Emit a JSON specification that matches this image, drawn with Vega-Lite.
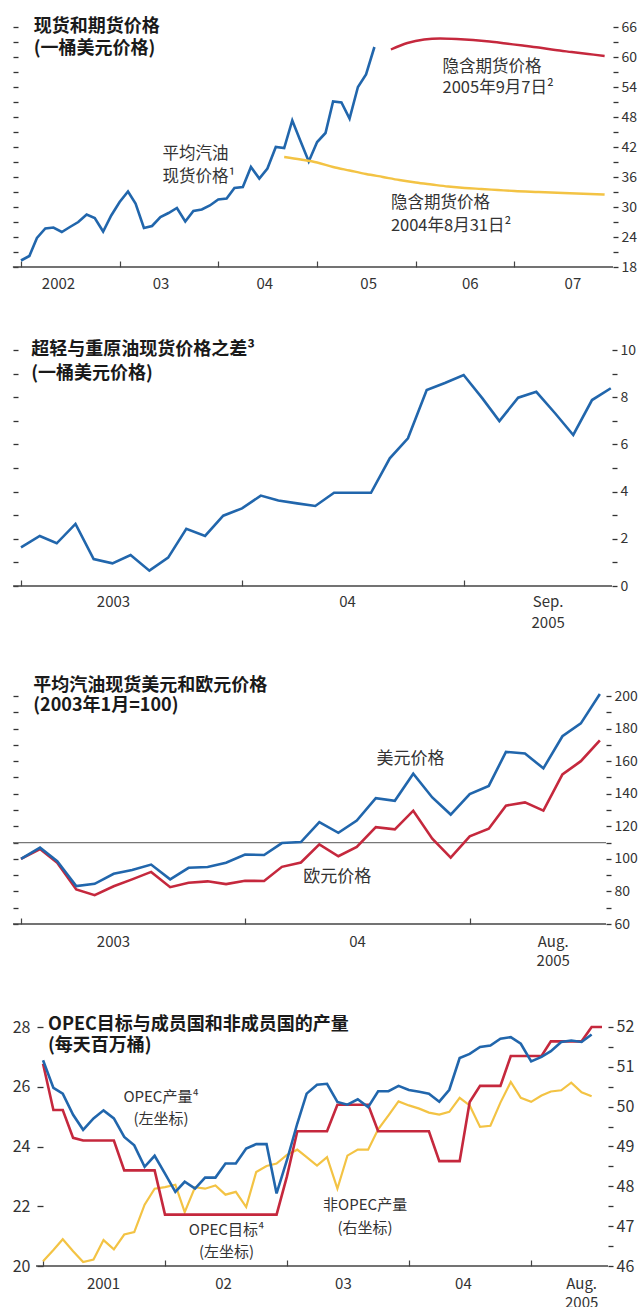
{
  "$schema": "https://vega.github.io/schema/vega-lite/v6.json",
  "background": "white",
  "padding": {"left": 12, "top": 18, "right": 0, "bottom": 0},
  "bounds": "flush",
  "spacing": 83,
  "config": {
    "view": {"stroke": null},
    "font": "Noto Sans CJK SC",
    "text": {"font": "Noto Sans CJK SC"},
    "axis": {"labelFont": "Noto Sans CJK SC", "grid": false, "title": null}
  },
  "datasets": {
    "spot": [
      {"date": "2002-01-01", "v": 19.3}, {"date": "2002-02-01", "v": 20.2}, {"date": "2002-03-01", "v": 23.8}, {"date": "2002-04-01", "v": 25.7},
      {"date": "2002-05-01", "v": 25.9}, {"date": "2002-06-01", "v": 25.0}, {"date": "2002-07-01", "v": 26.0}, {"date": "2002-08-01", "v": 27.0},
      {"date": "2002-09-01", "v": 28.5}, {"date": "2002-10-01", "v": 27.8}, {"date": "2002-11-01", "v": 25.1}, {"date": "2002-12-01", "v": 28.3},
      {"date": "2003-01-01", "v": 31.0}, {"date": "2003-02-01", "v": 33.1}, {"date": "2003-03-01", "v": 30.7}, {"date": "2003-04-01", "v": 25.8},
      {"date": "2003-05-01", "v": 26.2}, {"date": "2003-06-01", "v": 28.0}, {"date": "2003-07-01", "v": 28.8}, {"date": "2003-08-01", "v": 29.8},
      {"date": "2003-09-01", "v": 27.1}, {"date": "2003-10-01", "v": 29.2}, {"date": "2003-11-01", "v": 29.5}, {"date": "2003-12-01", "v": 30.3},
      {"date": "2004-01-01", "v": 31.5}, {"date": "2004-02-01", "v": 31.7}, {"date": "2004-03-01", "v": 33.8}, {"date": "2004-04-01", "v": 34.0},
      {"date": "2004-05-01", "v": 38.0}, {"date": "2004-06-01", "v": 35.7}, {"date": "2004-07-01", "v": 37.7}, {"date": "2004-08-01", "v": 42.0},
      {"date": "2004-09-01", "v": 41.8}, {"date": "2004-10-01", "v": 47.3}, {"date": "2004-11-01", "v": 43.1}, {"date": "2004-12-01", "v": 39.1},
      {"date": "2005-01-01", "v": 43.0}, {"date": "2005-02-01", "v": 44.8}, {"date": "2005-03-01", "v": 51.1}, {"date": "2005-04-01", "v": 50.9},
      {"date": "2005-05-01", "v": 47.7}, {"date": "2005-06-01", "v": 54.0}, {"date": "2005-07-01", "v": 56.5}, {"date": "2005-08-01", "v": 62.0}
    ],
    "futures": [
      {"s": "f05", "date": "2005-10-01", "v": 61.5}, {"s": "f05", "date": "2005-12-01", "v": 62.8}, {"s": "f05", "date": "2006-02-01", "v": 63.5},
      {"s": "f05", "date": "2006-04-01", "v": 63.7}, {"s": "f05", "date": "2006-06-01", "v": 63.6}, {"s": "f05", "date": "2006-08-01", "v": 63.4},
      {"s": "f05", "date": "2006-10-01", "v": 63.1}, {"s": "f05", "date": "2006-12-01", "v": 62.7}, {"s": "f05", "date": "2007-02-01", "v": 62.3},
      {"s": "f05", "date": "2007-04-01", "v": 61.9}, {"s": "f05", "date": "2007-06-01", "v": 61.4}, {"s": "f05", "date": "2007-08-01", "v": 61.0},
      {"s": "f05", "date": "2007-10-01", "v": 60.6}, {"s": "f05", "date": "2007-12-01", "v": 60.2},
      {"s": "f04", "date": "2004-09-01", "v": 40.0}, {"s": "f04", "date": "2004-11-01", "v": 39.5}, {"s": "f04", "date": "2005-01-01", "v": 38.9},
      {"s": "f04", "date": "2005-03-01", "v": 38.0}, {"s": "f04", "date": "2005-05-01", "v": 37.3}, {"s": "f04", "date": "2005-07-01", "v": 36.6},
      {"s": "f04", "date": "2005-09-01", "v": 36.0}, {"s": "f04", "date": "2005-11-01", "v": 35.4}, {"s": "f04", "date": "2006-01-01", "v": 34.9},
      {"s": "f04", "date": "2006-03-01", "v": 34.5}, {"s": "f04", "date": "2006-05-01", "v": 34.1}, {"s": "f04", "date": "2006-07-01", "v": 33.8},
      {"s": "f04", "date": "2006-09-01", "v": 33.6}, {"s": "f04", "date": "2006-11-01", "v": 33.4}, {"s": "f04", "date": "2007-01-01", "v": 33.2},
      {"s": "f04", "date": "2007-04-01", "v": 33.0}, {"s": "f04", "date": "2007-07-01", "v": 32.8}, {"s": "f04", "date": "2007-12-01", "v": 32.5}
    ],
    "spread": [
      {"date": "2003-01-01", "v": 1.64}, {"date": "2003-02-01", "v": 2.12}, {"date": "2003-03-01", "v": 1.81}, {"date": "2003-04-01", "v": 2.63},
      {"date": "2003-05-01", "v": 1.14}, {"date": "2003-06-01", "v": 0.96}, {"date": "2003-07-01", "v": 1.31}, {"date": "2003-08-01", "v": 0.65},
      {"date": "2003-09-01", "v": 1.2}, {"date": "2003-10-01", "v": 2.42}, {"date": "2003-11-01", "v": 2.12}, {"date": "2003-12-01", "v": 2.98},
      {"date": "2004-01-01", "v": 3.29}, {"date": "2004-02-01", "v": 3.83}, {"date": "2004-03-01", "v": 3.62}, {"date": "2004-04-01", "v": 3.5},
      {"date": "2004-05-01", "v": 3.39}, {"date": "2004-06-01", "v": 3.95}, {"date": "2004-07-01", "v": 3.95}, {"date": "2004-08-01", "v": 3.95},
      {"date": "2004-09-01", "v": 5.41}, {"date": "2004-10-01", "v": 6.26}, {"date": "2004-11-01", "v": 8.3}, {"date": "2004-12-01", "v": 8.6},
      {"date": "2005-01-01", "v": 8.94}, {"date": "2005-02-01", "v": 7.95}, {"date": "2005-03-01", "v": 6.99}, {"date": "2005-04-01", "v": 7.98},
      {"date": "2005-05-01", "v": 8.23}, {"date": "2005-06-01", "v": 7.32}, {"date": "2005-07-01", "v": 6.4}, {"date": "2005-08-01", "v": 7.88},
      {"date": "2005-09-01", "v": 8.38}
    ],
    "gas": [
      {"date": "2003-01-01", "usd": 100, "eur": 100}, {"date": "2003-02-01", "usd": 106.9, "eur": 106}, {"date": "2003-03-01", "usd": 98.6, "eur": 97.6},
      {"date": "2003-04-01", "usd": 83.3, "eur": 81.2}, {"date": "2003-05-01", "usd": 84.7, "eur": 77.7}, {"date": "2003-06-01", "usd": 90.8, "eur": 83.2},
      {"date": "2003-07-01", "usd": 93.1, "eur": 87.4}, {"date": "2003-08-01", "usd": 96.5, "eur": 92.0}, {"date": "2003-09-01", "usd": 87.4, "eur": 82.6},
      {"date": "2003-10-01", "usd": 94.5, "eur": 85.3}, {"date": "2003-11-01", "usd": 95, "eur": 86.2}, {"date": "2003-12-01", "usd": 97.6, "eur": 84.5},
      {"date": "2004-01-01", "usd": 102.6, "eur": 86.6}, {"date": "2004-02-01", "usd": 102.4, "eur": 86.4}, {"date": "2004-03-01", "usd": 109.7, "eur": 95.1},
      {"date": "2004-04-01", "usd": 110.3, "eur": 97.8}, {"date": "2004-05-01", "usd": 122.5, "eur": 108.9}, {"date": "2004-06-01", "usd": 116, "eur": 101.6},
      {"date": "2004-07-01", "usd": 123.5, "eur": 107.3}, {"date": "2004-08-01", "usd": 137.3, "eur": 119.5}, {"date": "2004-09-01", "usd": 135.7, "eur": 118.1},
      {"date": "2004-10-01", "usd": 152.3, "eur": 129.6}, {"date": "2004-11-01", "usd": 137.7, "eur": 112.4}, {"date": "2004-12-01", "usd": 127.2, "eur": 100.8},
      {"date": "2005-01-01", "usd": 139.8, "eur": 113.8}, {"date": "2005-02-01", "usd": 144.8, "eur": 118.5}, {"date": "2005-03-01", "usd": 165.7, "eur": 132.7},
      {"date": "2005-04-01", "usd": 164.7, "eur": 134.7}, {"date": "2005-05-01", "usd": 155.6, "eur": 129.6}, {"date": "2005-06-01", "usd": 175.3, "eur": 151.9},
      {"date": "2005-07-01", "usd": 183.2, "eur": 160}, {"date": "2005-08-01", "usd": 201.2, "eur": 172.8}
    ],
    "opec": [
      {"date": "2001-01-01", "prod": 26.89, "target": 26.77, "non": 46.12}, {"date": "2001-02-01", "prod": 25.96, "target": 25.22, "non": 46.40},
      {"date": "2001-03-01", "prod": 25.77, "target": 25.22, "non": 46.67}, {"date": "2001-04-01", "prod": 25.06, "target": 24.29, "non": 46.37},
      {"date": "2001-05-01", "prod": 24.56, "target": 24.20, "non": 46.10}, {"date": "2001-06-01", "prod": 24.94, "target": 24.20, "non": 46.16},
      {"date": "2001-07-01", "prod": 25.21, "target": 24.20, "non": 46.65}, {"date": "2001-08-01", "prod": 24.94, "target": 24.20, "non": 46.42},
      {"date": "2001-09-01", "prod": 24.32, "target": 23.20, "non": 46.79}, {"date": "2001-10-01", "prod": 24.04, "target": 23.20, "non": 46.85},
      {"date": "2001-11-01", "prod": 23.32, "target": 23.20, "non": 47.54}, {"date": "2001-12-01", "prod": 23.69, "target": 23.20, "non": 47.94},
      {"date": "2002-01-01", "prod": 23.09, "target": 21.72, "non": 47.98}, {"date": "2002-02-01", "prod": 22.48, "target": 21.72, "non": 48.04},
      {"date": "2002-03-01", "prod": 22.82, "target": 21.72, "non": 47.35}, {"date": "2002-04-01", "prod": 22.59, "target": 21.72, "non": 47.98},
      {"date": "2002-05-01", "prod": 22.96, "target": 21.72, "non": 47.94}, {"date": "2002-06-01", "prod": 22.96, "target": 21.72, "non": 48.02},
      {"date": "2002-07-01", "prod": 23.43, "target": 21.72, "non": 47.79}, {"date": "2002-08-01", "prod": 23.43, "target": 21.72, "non": 47.86},
      {"date": "2002-09-01", "prod": 23.93, "target": 21.72, "non": 47.48}, {"date": "2002-10-01", "prod": 24.08, "target": 21.72, "non": 48.36},
      {"date": "2002-11-01", "prod": 24.08, "target": 21.72, "non": 48.51}, {"date": "2002-12-01", "prod": 22.43, "target": 21.72, "non": 48.57},
      {"date": "2003-01-01", "prod": 23.54, "target": 23.00, "non": 48.79}, {"date": "2003-02-01", "prod": 24.77, "target": 24.51, "non": 48.92},
      {"date": "2003-03-01", "prod": 25.77, "target": 24.51, "non": 48.73}, {"date": "2003-04-01", "prod": 26.07, "target": 24.51, "non": 48.52},
      {"date": "2003-05-01", "prod": 26.10, "target": 24.51, "non": 48.73}, {"date": "2003-06-01", "prod": 25.49, "target": 25.40, "non": 47.94},
      {"date": "2003-07-01", "prod": 25.40, "target": 25.40, "non": 48.77}, {"date": "2003-08-01", "prod": 25.58, "target": 25.40, "non": 48.92},
      {"date": "2003-09-01", "prod": 25.32, "target": 25.40, "non": 48.92}, {"date": "2003-10-01", "prod": 25.85, "target": 24.51, "non": 49.43},
      {"date": "2003-11-01", "prod": 25.85, "target": 24.51, "non": 49.78}, {"date": "2003-12-01", "prod": 26.03, "target": 24.51, "non": 50.13},
      {"date": "2004-01-01", "prod": 25.89, "target": 24.51, "non": 50.03}, {"date": "2004-02-01", "prod": 25.83, "target": 24.51, "non": 49.95},
      {"date": "2004-03-01", "prod": 25.77, "target": 24.51, "non": 49.85}, {"date": "2004-04-01", "prod": 25.50, "target": 23.51, "non": 49.80},
      {"date": "2004-05-01", "prod": 25.90, "target": 23.51, "non": 49.87}, {"date": "2004-06-01", "prod": 26.96, "target": 23.51, "non": 50.22},
      {"date": "2004-07-01", "prod": 27.10, "target": 25.49, "non": 50.03}, {"date": "2004-08-01", "prod": 27.33, "target": 26.03, "non": 49.49},
      {"date": "2004-09-01", "prod": 27.38, "target": 26.03, "non": 49.52}, {"date": "2004-10-01", "prod": 27.61, "target": 26.03, "non": 50.10},
      {"date": "2004-11-01", "prod": 27.66, "target": 27.03, "non": 50.62}, {"date": "2004-12-01", "prod": 27.44, "target": 27.03, "non": 50.22},
      {"date": "2005-01-01", "prod": 26.85, "target": 27.03, "non": 50.12}, {"date": "2005-02-01", "prod": 27.00, "target": 27.03, "non": 50.28},
      {"date": "2005-03-01", "prod": 27.19, "target": 27.52, "non": 50.38}, {"date": "2005-04-01", "prod": 27.50, "target": 27.52, "non": 50.41},
      {"date": "2005-05-01", "prod": 27.55, "target": 27.52, "non": 50.60}, {"date": "2005-06-01", "prod": 27.50, "target": 27.52, "non": 50.36},
      {"date": "2005-07-01", "prod": 27.75, "target": 28.00, "non": 50.26}, {"date": "2005-08-01", "prod": null, "target": 28.00, "non": null}
    ]
  },
  "vconcat": [
    {
      "width": 592, "height": 240,
      "resolve": {"axis": {"y": "independent"}},
      "layer": [
        {"data": {"values": [{}]}, "mark": {"type": "rule", "color": "#444", "strokeWidth": 1.5},
          "encoding": {"x": {"datum": {"year": 2001, "month": 12, "date": 2, "utc": true}, "type": "temporal"},
            "x2": {"datum": {"year": 2008, "month": 1, "date": 1, "utc": true}},
            "y": {"datum": 18, "type": "quantitative", "axis": null}}},
        {
          "data": {"name": "spot"},
          "mark": {"type": "line", "color": "#2166ac", "strokeWidth": 2.6},
          "encoding": {
            "x": {"field": "date", "type": "temporal",
              "scale": {"domain": [{"year": 2002, "month": 1, "date": 1, "utc": true}, {"year": 2008, "month": 1, "date": 1, "utc": true}]},
              "axis": {"values": [1009843200000, 1041379200000, 1072915200000, 1104537600000, 1136073600000, 1167609600000],
                "labelExpr": "utcyear(datum.value) == 2002 ? '2002' : utcFormat(datum.value, '%y')",
                "labelOffset": {"condition": [
                  {"test": "utcyear(datum.value) == 2002", "value": 37},
                  {"test": "utcyear(datum.value) == 2003", "value": 41},
                  {"test": "utcyear(datum.value) == 2004", "value": 46},
                  {"test": "utcyear(datum.value) == 2005", "value": 51},
                  {"test": "utcyear(datum.value) == 2006", "value": 54}], "value": 58},
                "domain": false, "tickSize": -6, "labelPadding": 15.5, "labelFontSize": 15, "labelColor": "#333",
                "labelFlush": false, "labelOverlap": false, "tickColor": "#444", "tickWidth": 1.2, "title": null}},
            "y": {"field": "v", "type": "quantitative", "scale": {"domain": [18, 66], "nice": false, "zero": false},
              "axis": {"orient": "right", "values": [18, 21, 24, 27, 30, 33, 36, 39, 42, 45, 48, 51, 54, 57, 60, 63, 66],
                "labelExpr": "datum.value % 6 == 0 ? datum.label : ''", "domain": false, "tickSize": 5, "tickWidth": 1.3, "tickColor": "#333",
                "labelPadding": 3, "labelFontSize": 14, "labelColor": "#333", "labelOverlap": false, "labelFlush": false, "title": null}}
          }
        },
        {
          "data": {"name": "futures"},
          "mark": {"type": "line", "strokeWidth": 2.4, "interpolate": "monotone"},
          "encoding": {
            "x": {"field": "date", "type": "temporal"},
            "y": {"field": "v", "type": "quantitative",
              "axis": {"orient": "left", "values": [18, 21, 24, 27, 30, 33, 36, 39, 42, 45, 48, 51, 54, 57, 60, 63, 66], "labels": false, "domain": false,
                "tickSize": 5, "tickWidth": 1.3, "offset": 3, "tickColor": "#333", "title": null}},
            "color": {"field": "s", "type": "nominal", "scale": {"domain": ["f05", "f04"], "range": ["#c5283d", "#f3c344"]}, "legend": null}
          }
        },
        {"data": {"values": [{}]}, "mark": {"type": "text", "text": "现货和期货价格", "align": "left", "baseline": "middle", "fontSize": 18, "fontWeight": "bold", "color": "#1a1a1a"},
          "encoding": {"x": {"datum": {"year": 2002, "month": 2, "date": 17, "utc": true}, "type": "temporal"}, "y": {"datum": 66, "type": "quantitative", "axis": null}}},
        {"data": {"values": [{}]}, "mark": {"type": "text", "text": "(一桶美元价格)", "align": "left", "baseline": "middle", "fontSize": 18, "fontWeight": "bold", "color": "#1a1a1a"},
          "encoding": {"x": {"datum": {"year": 2002, "month": 2, "date": 17, "utc": true}, "type": "temporal"}, "y": {"datum": 61.7, "type": "quantitative", "axis": null}}},
        {"data": {"values": [{}]}, "mark": {"type": "text", "text": "平均汽油", "align": "left", "baseline": "middle", "fontSize": 16.5, "color": "#333"},
          "encoding": {"x": {"datum": {"year": 2003, "month": 6, "date": 9, "utc": true}, "type": "temporal"}, "y": {"datum": 40.6, "type": "quantitative", "axis": null}}},
        {"data": {"values": [{}]}, "mark": {"type": "text", "text": "现货价格¹", "align": "left", "baseline": "middle", "fontSize": 16.5, "color": "#333"},
          "encoding": {"x": {"datum": {"year": 2003, "month": 6, "date": 9, "utc": true}, "type": "temporal"}, "y": {"datum": 36.1, "type": "quantitative", "axis": null}}},
        {"data": {"values": [{}]}, "mark": {"type": "text", "text": "隐含期货价格", "align": "left", "baseline": "middle", "fontSize": 16.5, "color": "#333"},
          "encoding": {"x": {"datum": {"year": 2006, "month": 4, "date": 10, "utc": true}, "type": "temporal"}, "y": {"datum": 58.1, "type": "quantitative", "axis": null}}},
        {"data": {"values": [{}]}, "mark": {"type": "text", "text": "2005年9月7日²", "align": "left", "baseline": "middle", "fontSize": 16.5, "color": "#333"},
          "encoding": {"x": {"datum": {"year": 2006, "month": 4, "date": 10, "utc": true}, "type": "temporal"}, "y": {"datum": 53.9, "type": "quantitative", "axis": null}}},
        {"data": {"values": [{}]}, "mark": {"type": "text", "text": "隐含期货价格", "align": "left", "baseline": "middle", "fontSize": 16.5, "color": "#333"},
          "encoding": {"x": {"datum": {"year": 2005, "month": 10, "date": 1, "utc": true}, "type": "temporal"}, "y": {"datum": 30.8, "type": "quantitative", "axis": null}}},
        {"data": {"values": [{}]}, "mark": {"type": "text", "text": "2004年8月31日²", "align": "left", "baseline": "middle", "fontSize": 16.5, "color": "#333"},
          "encoding": {"x": {"datum": {"year": 2005, "month": 10, "date": 1, "utc": true}, "type": "temporal"}, "y": {"datum": 26.2, "type": "quantitative", "axis": null}}}
      ]
    },
    {
      "width": 591, "height": 236,
      "resolve": {"axis": {"y": "independent"}},
      "layer": [
        {"data": {"values": [{}]}, "mark": {"type": "rule", "color": "#444", "strokeWidth": 1.5},
          "encoding": {"x": {"datum": {"year": 2002, "month": 12, "date": 19, "utc": true}, "type": "temporal"},
            "x2": {"datum": {"year": 2005, "month": 9, "date": 3, "utc": true}},
            "y": {"datum": 0, "type": "quantitative", "axis": null}}},
        {
          "data": {"name": "spread"},
          "mark": {"type": "line", "color": "#2166ac", "strokeWidth": 2.6},
          "encoding": {
            "x": {"field": "date", "type": "temporal",
              "scale": {"domain": [{"year": 2003, "month": 1, "date": 1, "utc": true}, {"year": 2005, "month": 9, "date": 3, "utc": true}]},
              "axis": {"values": [1041379200000, 1072915200000, 1104537600000],
                "labelExpr": "utcyear(datum.value) == 2003 ? '2003' : utcyear(datum.value) == 2004 ? '04' : ['Sep.', '2005']",
                "labelOffset": {"condition": [
                  {"test": "utcyear(datum.value) == 2003", "value": 92},
                  {"test": "utcyear(datum.value) == 2004", "value": 105}], "value": 84},
                "domain": false, "tickSize": -6, "labelPadding": 14.5, "labelFontSize": 15, "labelColor": "#333", "labelLineHeight": 21,
                "labelFlush": false, "labelOverlap": false, "tickColor": "#444", "tickWidth": 1.2, "title": null}},
            "y": {"field": "v", "type": "quantitative", "scale": {"domain": [0, 10], "nice": false, "zero": false},
              "axis": {"orient": "right", "values": [0, 1, 2, 3, 4, 5, 6, 7, 8, 9, 10],
                "labelExpr": "datum.value % 2 == 0 ? datum.label : ''", "domain": false, "tickSize": 5, "tickWidth": 1.3, "tickColor": "#333",
                "labelPadding": 3, "labelFontSize": 14, "labelColor": "#333", "labelOverlap": false, "labelFlush": false, "title": null}}
          }
        },
        {"data": {"values": [{}]}, "mark": {"type": "text", "text": "超轻与重原油现货价格之差³", "align": "left", "baseline": "middle", "fontSize": 18, "fontWeight": "bold", "color": "#1a1a1a"},
          "encoding": {"x": {"datum": {"year": 2003, "month": 1, "date": 18, "utc": true}, "type": "temporal"},
            "y": {"datum": 10, "type": "quantitative",
              "axis": {"orient": "left", "values": [0, 1, 2, 3, 4, 5, 6, 7, 8, 9, 10], "labels": false, "domain": false,
                "tickSize": 5, "tickWidth": 1.3, "offset": 3, "tickColor": "#333", "title": null}}}},
        {"data": {"values": [{}]}, "mark": {"type": "text", "text": "(一桶美元价格)", "align": "left", "baseline": "middle", "fontSize": 18, "fontWeight": "bold", "color": "#1a1a1a"},
          "encoding": {"x": {"datum": {"year": 2003, "month": 1, "date": 18, "utc": true}, "type": "temporal"}, "y": {"datum": 9.0, "type": "quantitative", "axis": null}}}
      ]
    },
    {
      "width": 585, "height": 255,
      "resolve": {"axis": {"y": "independent"}},
      "layer": [
        {"data": {"values": [{}]}, "mark": {"type": "rule", "color": "#444", "strokeWidth": 1.5},
          "encoding": {"x": {"datum": {"year": 2002, "month": 12, "date": 19, "utc": true}, "type": "temporal"},
            "x2": {"datum": {"year": 2005, "month": 8, "date": 11, "utc": true}},
            "y": {"datum": 60, "type": "quantitative", "axis": null}}},
        {"data": {"values": [{}]}, "mark": {"type": "rule", "color": "#777", "strokeWidth": 1.2},
          "encoding": {"x": {"datum": {"year": 2002, "month": 12, "date": 19, "utc": true}, "type": "temporal"},
            "x2": {"datum": {"year": 2005, "month": 8, "date": 11, "utc": true}},
            "y": {"datum": 110, "type": "quantitative", "axis": null}}},
        {
          "data": {"name": "gas"},
          "mark": {"type": "line", "color": "#c5283d", "strokeWidth": 2.6},
          "encoding": {
            "x": {"field": "date", "type": "temporal"},
            "y": {"field": "eur", "type": "quantitative",
              "axis": {"orient": "left", "values": [60, 70, 80, 90, 100, 110, 120, 130, 140, 150, 160, 170, 180, 190, 200], "labels": false, "domain": false,
                "tickSize": 5, "tickWidth": 1.3, "offset": 3, "tickColor": "#333", "title": null}}
          }
        },
        {
          "data": {"name": "gas"},
          "mark": {"type": "line", "color": "#2166ac", "strokeWidth": 2.6},
          "encoding": {
            "x": {"field": "date", "type": "temporal",
              "scale": {"domain": [{"year": 2003, "month": 1, "date": 1, "utc": true}, {"year": 2005, "month": 8, "date": 11, "utc": true}]},
              "axis": {"values": [1041379200000, 1072915200000, 1104537600000],
                "labelExpr": "utcyear(datum.value) == 2003 ? '2003' : utcyear(datum.value) == 2004 ? '04' : ['Aug.', '2005']",
                "labelOffset": {"condition": [
                  {"test": "utcyear(datum.value) == 2003", "value": 92},
                  {"test": "utcyear(datum.value) == 2004", "value": 112}], "value": 83},
                "domain": false, "tickSize": -6, "labelPadding": 16, "labelFontSize": 15, "labelColor": "#333", "labelLineHeight": 19,
                "labelFlush": false, "labelOverlap": false, "tickColor": "#444", "tickWidth": 1.2, "title": null}},
            "y": {"field": "usd", "type": "quantitative", "scale": {"domain": [60, 216.6], "nice": false, "zero": false},
              "axis": {"orient": "right", "values": [60, 70, 80, 90, 100, 110, 120, 130, 140, 150, 160, 170, 180, 190, 200],
                "labelExpr": "datum.value % 20 == 0 ? datum.label : ''", "domain": false, "tickSize": 5, "tickWidth": 1.3, "tickColor": "#333",
                "labelPadding": 3, "labelFontSize": 14, "labelColor": "#333", "labelOverlap": false, "labelFlush": false, "title": null}}
          }
        },
        {"data": {"values": [{}]}, "mark": {"type": "text", "text": "平均汽油现货美元和欧元价格", "align": "left", "baseline": "middle", "fontSize": 18, "fontWeight": "bold", "color": "#1a1a1a"},
          "encoding": {"x": {"datum": {"year": 2003, "month": 1, "date": 21, "utc": true}, "type": "temporal"}, "y": {"datum": 206.2, "type": "quantitative", "axis": null}}},
        {"data": {"values": [{}]}, "mark": {"type": "text", "text": "(2003年1月=100)", "align": "left", "baseline": "middle", "fontSize": 18, "fontWeight": "bold", "color": "#1a1a1a"},
          "encoding": {"x": {"datum": {"year": 2003, "month": 1, "date": 21, "utc": true}, "type": "temporal"}, "y": {"datum": 194.0, "type": "quantitative", "axis": null}}},
        {"data": {"values": [{}]}, "mark": {"type": "text", "text": "美元价格", "align": "left", "baseline": "middle", "fontSize": 17, "color": "#333"},
          "encoding": {"x": {"datum": {"year": 2004, "month": 8, "date": 2, "utc": true}, "type": "temporal"}, "y": {"datum": 161.5, "type": "quantitative", "axis": null}}},
        {"data": {"values": [{}]}, "mark": {"type": "text", "text": "欧元价格", "align": "left", "baseline": "middle", "fontSize": 17, "color": "#333"},
          "encoding": {"x": {"datum": {"year": 2004, "month": 4, "date": 5, "utc": true}, "type": "temporal"}, "y": {"datum": 89, "type": "quantitative", "axis": null}}}
      ]
    },
    {
      "width": 587, "height": 259,
      "resolve": {"scale": {"y": "independent"}},
      "layer": [
        {
          "data": {"name": "opec"},
          "mark": {"type": "line", "color": "#f3c344", "strokeWidth": 2.2},
          "encoding": {
            "x": {"field": "date", "type": "temporal"},
            "y": {"field": "non", "type": "quantitative", "scale": {"domain": [46, 52.5], "nice": false, "zero": false},
              "axis": {"orient": "right", "values": [46, 46.5, 47, 47.5, 48, 48.5, 49, 49.5, 50, 50.5, 51, 51.5, 52],
                "labelExpr": "datum.value % 1 == 0 ? format(datum.value, 'd') : ''", "domain": false, "tickSize": 5, "tickWidth": 1.3, "tickColor": "#333",
                "labelPadding": 3, "labelFontSize": 16, "labelColor": "#333", "labelOverlap": false, "labelFlush": false, "title": null}}
          }
        },
        {
          "layer": [
            {"data": {"values": [{}]}, "mark": {"type": "rule", "color": "#444", "strokeWidth": 1.5},
              "encoding": {"x": {"datum": {"year": 2000, "month": 12, "date": 11, "utc": true}, "type": "temporal"},
                "x2": {"datum": {"year": 2005, "month": 8, "date": 19, "utc": true}},
                "y": {"datum": 20, "type": "quantitative"}}},
            {
              "data": {"name": "opec"},
              "mark": {"type": "line", "color": "#c5283d", "strokeWidth": 2.6},
              "encoding": {
                "x": {"field": "date", "type": "temporal",
                  "scale": {"domain": [{"year": 2000, "month": 10, "date": 27, "utc": true}, {"year": 2005, "month": 8, "date": 19, "utc": true}]},
                  "axis": {"values": [978307200000, 1009843200000, 1041379200000, 1072915200000, 1104537600000],
                    "labelExpr": "utcyear(datum.value) == 2001 ? '2001' : utcyear(datum.value) == 2005 ? ['Aug.', '2005'] : utcFormat(datum.value, '%y')",
                    "labelOffset": {"condition": [
                      {"test": "utcyear(datum.value) == 2001", "value": 60},
                      {"test": "utcyear(datum.value) == 2002", "value": 58},
                      {"test": "utcyear(datum.value) == 2003", "value": 56},
                      {"test": "utcyear(datum.value) == 2004", "value": 54}], "value": 50},
                    "domain": false, "tickSize": -6, "labelPadding": 16, "labelFontSize": 15, "labelColor": "#333", "labelLineHeight": 19,
                    "labelFlush": false, "labelOverlap": false, "tickColor": "#444", "tickWidth": 1.2, "title": null}},
                "y": {"field": "target", "type": "quantitative", "scale": {"domain": [20, 28.67], "nice": false, "zero": false},
                  "axis": {"orient": "left", "offset": -22, "values": [20, 21, 22, 23, 24, 25, 26, 27, 28],
                    "labelExpr": "datum.value % 2 == 0 ? datum.label : ''", "domain": false, "tickSize": 6, "tickWidth": 1.3, "tickColor": "#333",
                    "labelPadding": 7, "labelFontSize": 16, "labelColor": "#333", "labelOverlap": false, "labelFlush": false, "title": null}}
              }
            },
            {
              "data": {"name": "opec"},
              "mark": {"type": "line", "color": "#2166ac", "strokeWidth": 2.6},
              "encoding": {
                "x": {"field": "date", "type": "temporal"},
                "y": {"field": "prod", "type": "quantitative"}
              }
            },
            {"data": {"values": [{}]}, "mark": {"type": "text", "text": "OPEC目标与成员国和非成员国的产量", "align": "left", "baseline": "middle", "fontSize": 18, "fontWeight": "bold", "color": "#1a1a1a"},
              "encoding": {"x": {"datum": {"year": 2001, "month": 1, "date": 16, "utc": true}, "type": "temporal"}, "y": {"datum": 28.08, "type": "quantitative"}}},
            {"data": {"values": [{}]}, "mark": {"type": "text", "text": "(每天百万桶)", "align": "left", "baseline": "middle", "fontSize": 18, "fontWeight": "bold", "color": "#1a1a1a"},
              "encoding": {"x": {"datum": {"year": 2001, "month": 1, "date": 16, "utc": true}, "type": "temporal"}, "y": {"datum": 27.36, "type": "quantitative"}}},
            {"data": {"values": [{}]}, "mark": {"type": "text", "text": "OPEC产量⁴", "align": "center", "baseline": "middle", "fontSize": 15, "color": "#333"},
              "encoding": {"x": {"datum": {"year": 2001, "month": 12, "date": 20, "utc": true}, "type": "temporal"}, "y": {"datum": 25.66, "type": "quantitative"}}},
            {"data": {"values": [{}]}, "mark": {"type": "text", "text": "(左坐标)", "align": "center", "baseline": "middle", "fontSize": 15, "color": "#333"},
              "encoding": {"x": {"datum": {"year": 2001, "month": 12, "date": 20, "utc": true}, "type": "temporal"}, "y": {"datum": 24.91, "type": "quantitative"}}},
            {"data": {"values": [{}]}, "mark": {"type": "text", "text": "OPEC目标⁴", "align": "center", "baseline": "middle", "fontSize": 15, "color": "#333"},
              "encoding": {"x": {"datum": {"year": 2002, "month": 7, "date": 4, "utc": true}, "type": "temporal"}, "y": {"datum": 21.2, "type": "quantitative"}}},
            {"data": {"values": [{}]}, "mark": {"type": "text", "text": "(左坐标)", "align": "center", "baseline": "middle", "fontSize": 15, "color": "#333"},
              "encoding": {"x": {"datum": {"year": 2002, "month": 7, "date": 4, "utc": true}, "type": "temporal"}, "y": {"datum": 20.47, "type": "quantitative"}}},
            {"data": {"values": [{}]}, "mark": {"type": "text", "text": "非OPEC产量", "align": "center", "baseline": "middle", "fontSize": 15, "color": "#333"},
              "encoding": {"x": {"datum": {"year": 2003, "month": 8, "date": 23, "utc": true}, "type": "temporal"}, "y": {"datum": 22.03, "type": "quantitative"}}},
            {"data": {"values": [{}]}, "mark": {"type": "text", "text": "(右坐标)", "align": "center", "baseline": "middle", "fontSize": 15, "color": "#333"},
              "encoding": {"x": {"datum": {"year": 2003, "month": 8, "date": 23, "utc": true}, "type": "temporal"}, "y": {"datum": 21.27, "type": "quantitative"}}}
          ]
        }
      ]
    }
  ]
}
